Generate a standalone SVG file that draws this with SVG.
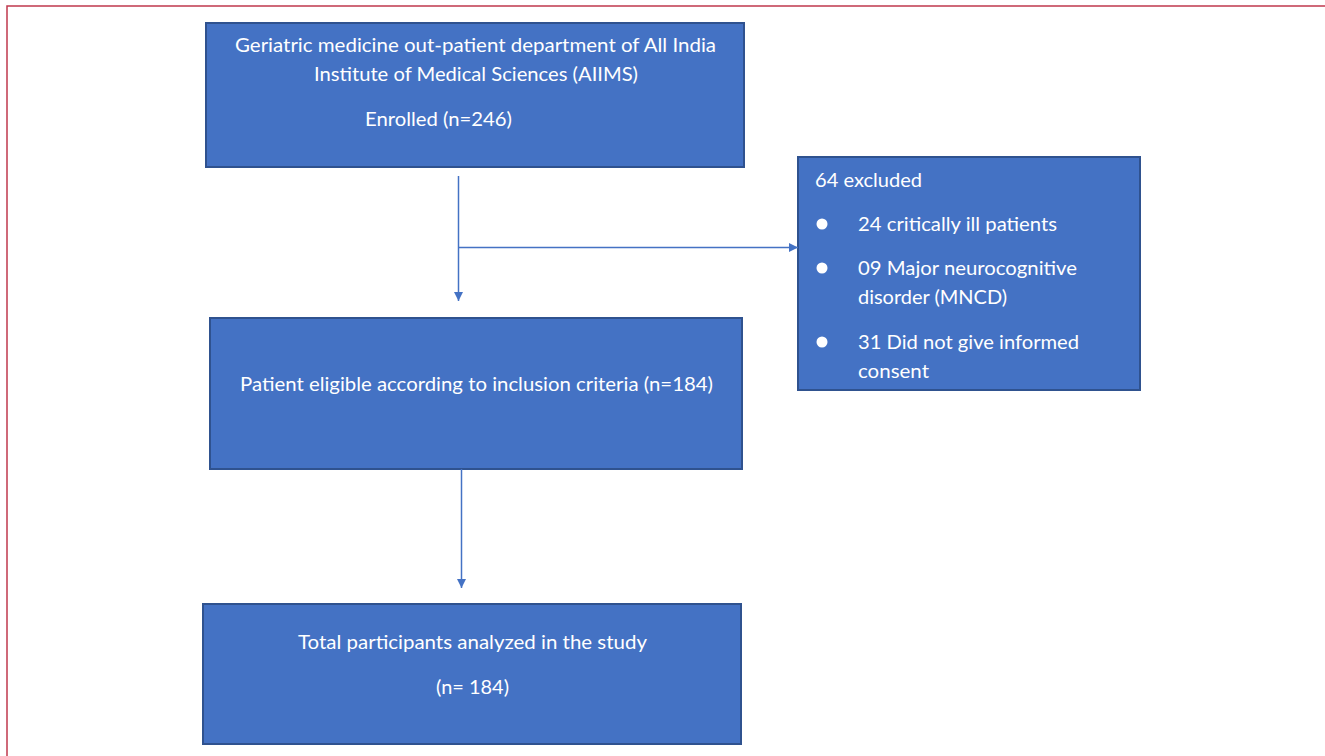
<svg xmlns="http://www.w3.org/2000/svg" width="1325" height="756" viewBox="0 0 1325 756">
<defs>
<style>
.box{fill:#4472C4;stroke:#2F528F;stroke-width:2}
.t{fill:#FFFFFF;font-family:Lato,"Open Sans","Liberation Sans",sans-serif;font-size:20px}
.conn{stroke:#4472C4;stroke-width:1.5;fill:none}
</style>
<marker id="ah" viewBox="0 0 10 10" refX="10" refY="5" markerWidth="9" markerHeight="9" markerUnits="userSpaceOnUse" orient="auto">
<path d="M0,0 L10,5 L0,10 Z" fill="#4472C4"/>
</marker>
</defs>
<rect x="0" y="0" width="1325" height="756" fill="#FFFFFF"/>
<path d="M7,756 L7,6 L1325,6" fill="none" stroke="#C0394E" stroke-width="1.5"/>
<g id="n1">
<rect class="box" x="206" y="23" width="538" height="144"/>
<text class="t" x="235" y="52" textLength="481" lengthAdjust="spacingAndGlyphs">Geriatric medicine out-patient department of All India</text>
<text class="t" x="314" y="81" textLength="324" lengthAdjust="spacingAndGlyphs">Institute of Medical Sciences (AIIMS)</text>
<text class="t" x="365" y="126" textLength="147" lengthAdjust="spacingAndGlyphs">Enrolled (n=246)</text>
</g>
<g id="n2">
<rect class="box" x="798" y="157" width="342" height="233"/>
<text class="t" x="815" y="187" textLength="107" lengthAdjust="spacingAndGlyphs">64 excluded</text>
<circle cx="822" cy="224" r="5.5" fill="#FFFFFF"/>
<text class="t" x="858" y="231" textLength="199" lengthAdjust="spacingAndGlyphs">24 critically ill patients</text>
<circle cx="822" cy="268" r="5.5" fill="#FFFFFF"/>
<text class="t" x="858" y="275" textLength="219" lengthAdjust="spacingAndGlyphs">09 Major neurocognitive</text>
<text class="t" x="858" y="304" textLength="149" lengthAdjust="spacingAndGlyphs">disorder (MNCD)</text>
<circle cx="822" cy="342" r="5.5" fill="#FFFFFF"/>
<text class="t" x="858" y="349" textLength="221" lengthAdjust="spacingAndGlyphs">31 Did not give informed</text>
<text class="t" x="858" y="378" textLength="71" lengthAdjust="spacingAndGlyphs">consent</text>
</g>
<g id="n3">
<rect class="box" x="210" y="318" width="532" height="151"/>
<text class="t" x="240" y="391" textLength="473" lengthAdjust="spacingAndGlyphs">Patient eligible according to inclusion criteria (n=184)</text>
</g>
<g id="n4">
<rect class="box" x="203" y="604" width="538" height="140"/>
<text class="t" x="298" y="649" textLength="349" lengthAdjust="spacingAndGlyphs">Total participants analyzed in the study</text>
<text class="t" x="436" y="694" textLength="73" lengthAdjust="spacingAndGlyphs">(n= 184)</text>
</g>
<g id="connectors">
<line class="conn" x1="458.5" y1="176" x2="458.5" y2="301" marker-end="url(#ah)"/>
<line class="conn" x1="458.5" y1="247.5" x2="798" y2="247.5" marker-end="url(#ah)"/>
<line class="conn" x1="461.5" y1="469" x2="461.5" y2="588" marker-end="url(#ah)"/>
</g>
</svg>
